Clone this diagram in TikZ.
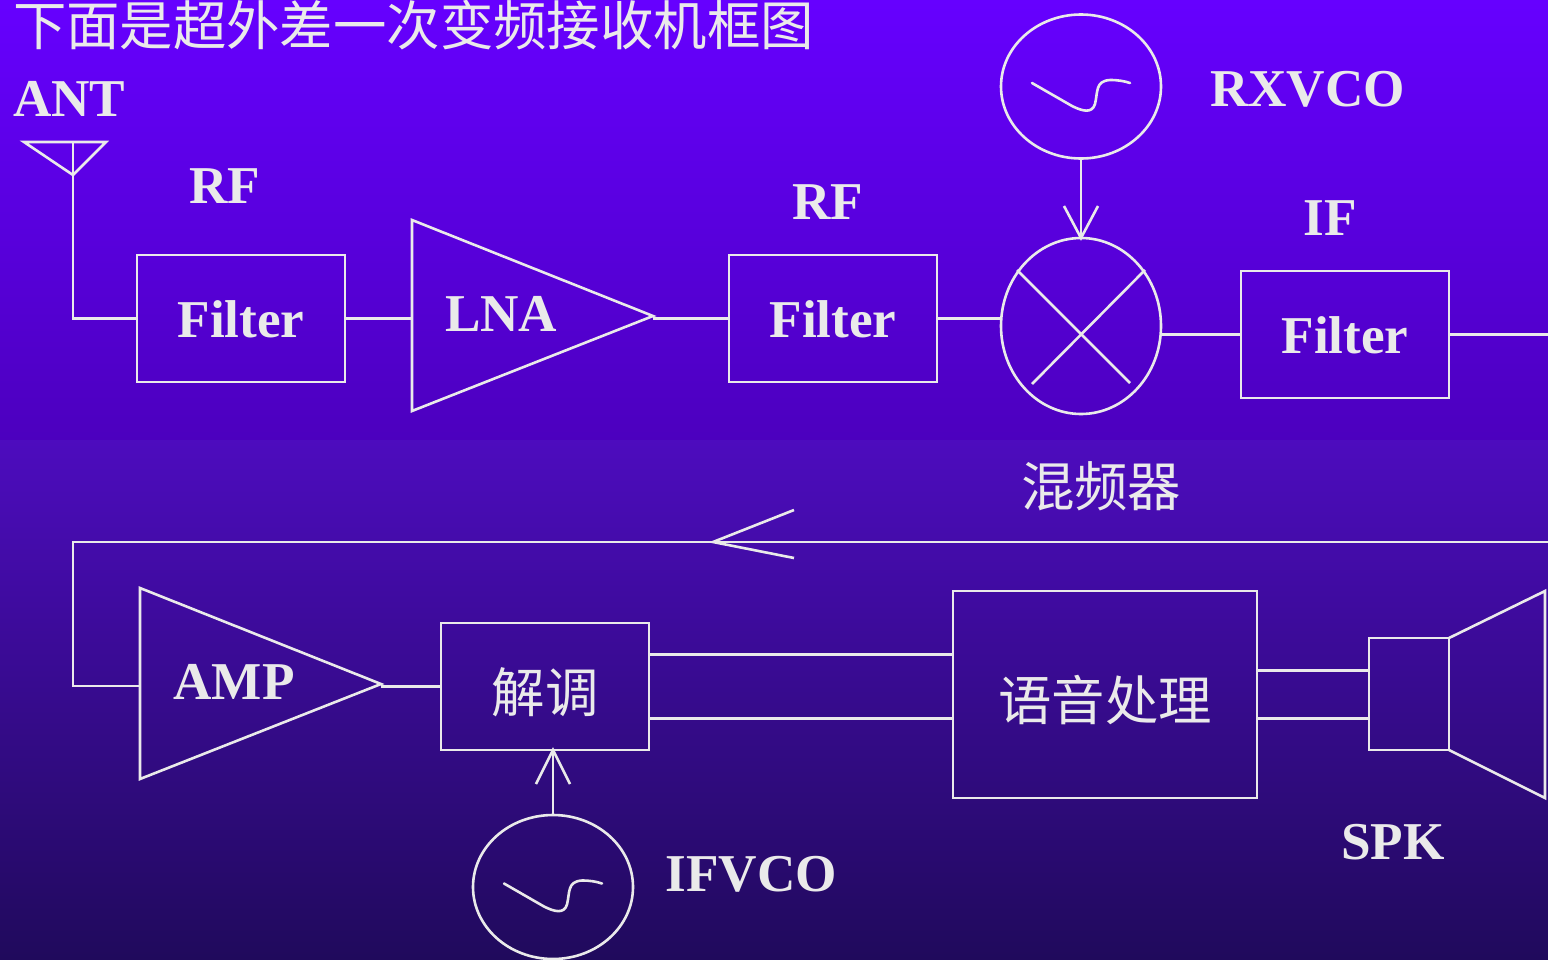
\documentclass[tikz,border=0pt]{standalone}
\usepackage{fontspec}
\setmainfont{Liberation Serif}
\newfontfamily\cjk{Noto Sans CJK SC}
\usetikzlibrary{shapes.geometric}
\definecolor{ink}{RGB}{234,234,234}
\definecolor{bgA}{RGB}{102,0,255}
\definecolor{bgB}{RGB}{76,0,190}
\definecolor{bgC}{RGB}{77,12,190}
\definecolor{bgD}{RGB}{32,10,92}
\pgfdeclareverticalshading{upperbg}{100bp}{color(0bp)=(bgB); color(25bp)=(bgB); color(75bp)=(bgA); color(100bp)=(bgA)}
\pgfdeclareverticalshading{lowerbg}{100bp}{color(0bp)=(bgD); color(25bp)=(bgD); color(75bp)=(bgC); color(100bp)=(bgC)}
\tikzset{
  wire/.style={draw=ink,line width=2.6pt,line join=miter},
  blockbox/.style={draw=ink,line width=2.6pt,rectangle,inner sep=0pt,outer sep=0pt,text=ink},
  filterbox/.style={blockbox,minimum width=208pt,minimum height=127pt,font=\bfseries\fontsize{53.2}{60}\selectfont,text height=38pt,text depth=0pt},
  cjkbox/.style={blockbox,font=\cjk\fontsize{53.4}{60}\selectfont,text height=56pt,text depth=5pt},
  round/.style={draw=ink,line width=2.6pt,ellipse,minimum width=160pt,inner sep=0pt,outer sep=0pt},
  lbl/.style={text=ink,inner sep=0pt,outer sep=0pt,anchor=base west,font=\bfseries\fontsize{53.2}{60}\selectfont},
  cjklbl/.style={text=ink,inner sep=0pt,outer sep=0pt,anchor=base west,font=\cjk\fontsize{53.4}{60}\selectfont},
}
\begin{document}
\begin{tikzpicture}[x=1pt,y=-1pt]
\useasboundingbox (0,0) rectangle (1548,959);
\shade[shading=upperbg] (0,0) rectangle (1548,440);
\shade[shading=lowerbg] (0,440) rectangle (1548,959);
\clip (0,0) rectangle (1548,959);

% texts
\node[cjklbl] (title) at (13,45) {下面是超外差一次变频接收机框图};
\node[lbl] (ant) at (13,116.5) {ANT};
\node[lbl] (rf1) at (189.5,203.5) {RF};
\node[lbl] (rf2) at (792,219.5) {RF};
\node[lbl] (if) at (1303.5,235.5) {IF};
\node[lbl] (rxvco) at (1210,106.5) {RXVCO};
\node[lbl] (lnat) at (445,331.5) {LNA};
\node[lbl] (ampt) at (173.5,699.5) {AMP};
\node[lbl] (ifvco) at (665.5,891.5) {IFVCO};
\node[lbl] (spk) at (1341,859.5) {SPK};
\node[cjklbl] (mixt) at (1021,506) {混频器};

% blocks
\node[filterbox] (f1) at (241,318.5) {Filter};
\node[filterbox] (f2) at (833,318.5) {Filter};
\node[filterbox] (f3) at (1345,334.5) {Filter};
\node[cjkbox,minimum width=208pt,minimum height=127pt] (demod) at (545,686.5) {解调};
\node[cjkbox,minimum width=304pt,minimum height=207pt] (voice) at (1105,694.5) {语音处理};
\node[blockbox,minimum width=80pt,minimum height=112pt] (spkbox) at (1409,694) {};
\node[round,minimum height=176pt] (mixer) at (1081,326) {};
\node[round,minimum height=144pt] (rxosc) at (1081,86.5) {};
\node[round,minimum height=144pt] (ifosc) at (553,887) {};

% triangles and antenna, speaker horn
\coordinate (lnaA) at (412,220); \coordinate (lnaB) at (412,411); \coordinate (lnaT) at (653,316);
\coordinate (ampA) at (140,588); \coordinate (ampB) at (140,779); \coordinate (ampT) at (381,684);
\draw[wire] (lnaA) -- (lnaB) -- (lnaT) -- cycle;
\draw[wire] (ampA) -- (ampB) -- (ampT) -- cycle;
\coordinate (antL) at (24,142); \coordinate (antR) at (106,142); \coordinate (antB) at (73,175); \coordinate (antT) at (73,142);
\draw[wire] (antL) -- (antR) -- (antB) -- cycle;
\coordinate (hornA) at (1545,591); \coordinate (hornB) at (1545,798);
\draw[wire] (spkbox.north east) -- (hornA) -- (hornB) -- (spkbox.south east);

% mixer cross
\coordinate (xa) at (1017,270); \coordinate (xb) at (1130,383); \coordinate (xc) at (1145,270); \coordinate (xd) at (1032,384);
\draw[wire] (xa) -- (xb);
\draw[wire] (xc) -- (xd);

% oscillator symbols
\draw[wire,line cap=round] (1032,83) -- (1072,106) .. controls (1082,111) and (1092,114) .. (1095,104) .. controls (1098,92) and (1095,81) .. (1110,80) .. controls (1118,80) and (1124,81) .. (1130,83);
\draw[wire,line cap=round] (504,883.5) -- (544,906.5) .. controls (554,911.5) and (564,914.5) .. (567,904.5) .. controls (570,892.5) and (567,881.5) .. (582,880.5) .. controls (590,880.5) and (596,881.5) .. (602,883.5);

% connectors
\draw[wire] (antT) -- (antT |- f1.west) -- (f1.west);
\draw[wire] (f1.east) -- (f1.east -| lnaA);
\draw[wire] (lnaT |- f2.west) -- (f2.west);
\draw[wire] (f2.east) -- (f2.east -| mixer.west);
\draw[wire] (f3.west -| mixer.east) -- (f3.west);
\coordinate (rightTop) at (1548,334.5);
\draw[wire] (f3.east) -- (rightTop);
\coordinate (rightLow) at (1548,542);
\coordinate (corner) at (73,542);
\coordinate (ampIn) at (ampA |- 0,686);
\draw[wire] (rightLow) -- (corner) -- (corner |- ampIn) -- (ampIn);
\coordinate (feedTip) at (713,542); \coordinate (feedA) at (794,510); \coordinate (feedB) at (794,558);
\draw[wire] (feedA) -- (feedTip) -- (feedB);
\draw[wire] (ampT |- demod.west) -- (demod.west);
\coordinate (d1) at (649,654.5); \coordinate (d2) at (649,718.5);
\draw[wire] (d1) -- (d1 -| voice.west);
\draw[wire] (d2) -- (d2 -| voice.west);
\coordinate (s1) at (1257,670.5); \coordinate (s2) at (1257,718.5);
\draw[wire] (s1) -- (s1 -| spkbox.west);
\draw[wire] (s2) -- (s2 -| spkbox.west);
% oscillator arrows
\coordinate (rxTip) at (mixer.north);
\draw[wire] (rxosc.south) -- (rxTip);
\coordinate (rxA) at (1064,206); \coordinate (rxB) at (1098,206);
\draw[wire] (rxA) -- (rxTip) -- (rxB);
\coordinate (ifTip) at (ifosc.north |- demod.south);
\draw[wire] (ifosc.north) -- (ifTip);
\coordinate (ifA) at (536,784); \coordinate (ifB) at (570,784);
\draw[wire] (ifA) -- (ifTip) -- (ifB);
\end{tikzpicture}
\end{document}
